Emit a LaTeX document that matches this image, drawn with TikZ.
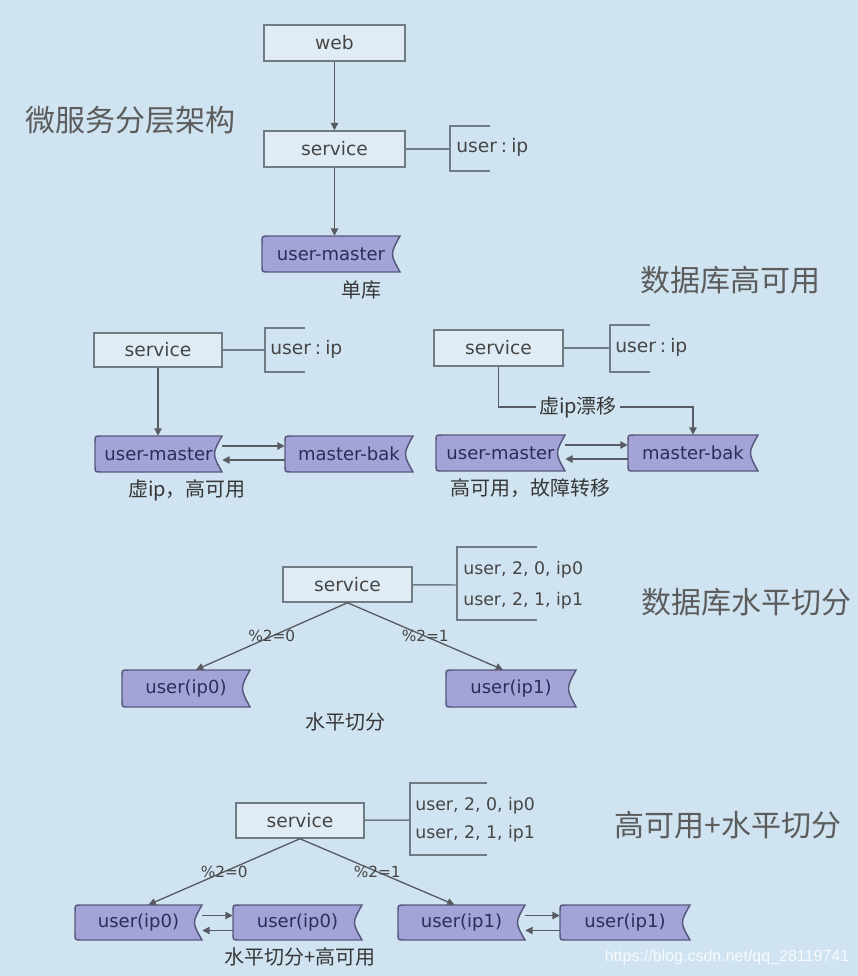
\documentclass[tikz,border=0pt]{standalone}
\usepackage{fontspec}
\setmainfont{DejaVu Sans}
\newfontfamily\cjk{Noto Sans CJK SC}
\newfontfamily\wmfont{Liberation Sans}
\usetikzlibrary{calc,arrows.meta}
\definecolor{bgc}{RGB}{207,227,241}
\definecolor{boxfill}{RGB}{224,236,245}
\definecolor{boxline}{RGB}{112,124,132}
\definecolor{dbfill}{RGB}{163,163,216}
\definecolor{dbline}{RGB}{88,88,125}
\definecolor{dbtext}{RGB}{45,45,88}
\definecolor{txt}{RGB}{70,70,70}
\definecolor{ttl}{RGB}{92,92,92}
\definecolor{nt}{RGB}{55,55,55}
\definecolor{wirec}{RGB}{88,92,98}
% name, x1, y1, x2, y2, text
\newcommand\dbnode[6]{%
  \filldraw[fill=dbfill,draw=dbline,line width=1.1pt]
    ({#2+6},#3) -- (#4,#3) .. controls ({#4-10},{(#3+#5)/2}) .. (#4,#5)
    -- ({#2+6},#5) .. controls (#2,#5) .. (#2,{#5-6})
    -- (#2,{#3+6}) .. controls (#2,#3) .. cycle;
  \node[dbtxt,minimum width={(#4-#2)*0.75pt},minimum height={(#5-#3)*0.75pt}]
    (#1) at ({(#2+#4)/2},{(#3+#5)/2}) {#6\hspace{4pt}};}
\begin{document}
\begin{tikzpicture}[x=0.75pt,y=-0.75pt,
  svcbox/.style={draw=boxline,fill=boxfill,line width=1.1pt,inner sep=0pt,
    minimum width=96pt,minimum height=26.25pt,font=\fontsize{14}{16}\selectfont,text=txt},
  dbtxt/.style={inner sep=0pt,font=\fontsize{13.5}{16}\selectfont,text=dbtext},
  anno/.style={inner sep=0pt,anchor=west,font=\fontsize{14}{16}\selectfont,text=txt},
  annotwo/.style={inner sep=0pt,anchor=west,align=left,text=txt},
  bline/.style={draw=boxline,line width=1.1pt},
  wire/.style={draw=wirec,line width=1pt},
  arr/.style={wire,-{Triangle[length=5.5pt,width=5.5pt]}},
  ttlnode/.style={font=\cjk\fontsize{22.5}{26}\selectfont,text=ttl,inner sep=0pt},
  note/.style={font=\cjk\fontsize{15}{18}\selectfont,text=nt,inner sep=0pt},
  pct/.style={font=\fontsize{11.5}{13}\selectfont,text=txt,inner sep=0pt},
]
\fill[bgc] (0,0) rectangle (858,976);
\useasboundingbox (0,0) rectangle (858,976);

% ---------- section 1 ----------
\node[ttlnode] (t1) at (131,120) {微服务分层架构};
\node[ttlnode] (t2) at (730,280) {数据库高可用};
\node[svcbox,minimum width=105.75pt,minimum height=27pt] (web) at (334.5,43) {web};
\node[svcbox,minimum width=105.75pt,minimum height=27pt] (s1) at (334.5,149) {service};
\draw[arr] (web) -- (s1);
\dbnode{um1}{262}{236}{400}{272}{user-master}
\draw[arr] (s1.south) -- (s1.south |- um1.north);
\node[note] (n1) at (361,290) {单库};
\coordinate (b1) at (450,149);
\draw[bline] (490,126) -- (450,126) -- (450,171) -- (490,171);
\draw[bline] (s1) -- (b1);
\node[anno] (a1) at (456,147) {user\hspace{3pt}:\hspace{3pt}ip};

% ---------- section 2 left ----------
\node[svcbox,minimum height=25.5pt] (s2a) at (158,350) {service};
\coordinate (b2a) at (265,350);
\draw[bline] (305,328) -- (265,328) -- (265,372) -- (305,372);
\draw[bline] (s2a) -- (b2a);
\node[anno] (a2a) at (270,349) {user\hspace{3pt}:\hspace{3pt}ip};
\dbnode{um2a}{95}{436}{222}{472}{user-master}
\dbnode{mb2a}{285}{436}{413}{472}{master-bak}
\draw[arr] (s2a.south) -- (s2a.south |- um2a.north);
\draw[arr] ($(um2a.east)+(0,-8)$) -- ($(mb2a.west)+(0,-8)$);
\draw[arr] ($(mb2a.west)+(0,6)$) -- ($(um2a.east)+(0,6)$);
\node[note] (n2a) at (187,490) {虚ip，高可用};

% ---------- section 2 right ----------
\node[svcbox,minimum width=96.75pt,minimum height=27pt] (s2b) at (498.5,348) {service};
\coordinate (b2b) at (610,348);
\draw[bline] (650,325) -- (610,325) -- (610,372) -- (650,372);
\draw[bline] (s2b) -- (b2b);
\node[anno] (a2b) at (615,347) {user\hspace{3pt}:\hspace{3pt}ip};
\dbnode{um2b}{436}{435}{565}{471}{user-master}
\dbnode{mb2b}{628}{435}{758}{471}{master-bak}
\node[note,inner sep=2pt] (vip) at (578,407) {虚ip漂移};
\draw[wire] (s2b.south) |- (vip.west);
\draw[arr] (vip.east) -| (mb2b.north);
\draw[arr] ($(um2b.east)+(0,-8)$) -- ($(mb2b.west)+(0,-8)$);
\draw[arr] ($(mb2b.west)+(0,6)$) -- ($(um2b.east)+(0,6)$);
\node[note] (n2b) at (530,488) {高可用，故障转移};

% ---------- section 3 ----------
\node[ttlnode] (t3) at (746,602) {数据库水平切分};
\node[svcbox,minimum width=96.75pt,minimum height=26.25pt] (s3) at (347.5,584.5) {service};
\coordinate (b3) at (457,585);
\draw[bline] (537,547) -- (457,547) -- (457,620) -- (537,620);
\draw[bline] (s3) -- (b3);
\node[annotwo,font=\fontsize{13}{23.25}\selectfont] (a3) at (463,585.5) {user, 2, 0, ip0\\user, 2, 1, ip1};
\dbnode{u30}{122}{670}{250}{707}{user(ip0)}
\dbnode{u31}{446}{670}{576}{707}{user(ip1)}
\draw[arr] (s3.south) -- node[pct] {\%2=0} ($(u30.north)+(10,0)$);
\draw[arr] (s3.south) -- node[pct] {\%2=1} ($(u31.north)+(-8,0)$);
\node[note] (n3) at (345,722) {水平切分};

% ---------- section 4 ----------
\node[ttlnode] (t4) at (728,825) {高可用+水平切分};
\node[svcbox,minimum width=96pt,minimum height=26.25pt] (s4) at (300,820.5) {service};
\coordinate (b4) at (410,820);
\draw[bline] (487,783) -- (410,783) -- (410,855) -- (487,855);
\draw[bline] (s4) -- (b4);
\node[annotwo,font=\fontsize{13}{21}\selectfont] (a4) at (415,820) {user, 2, 0, ip0\\user, 2, 1, ip1};
\dbnode{u40a}{75}{905}{202}{940}{user(ip0)}
\dbnode{u40b}{233}{905}{362}{940}{user(ip0)}
\dbnode{u41a}{398}{905}{525}{940}{user(ip1)}
\dbnode{u41b}{560}{905}{690}{940}{user(ip1)}
\draw[arr] (s4.south) -- node[pct] {\%2=0} ($(u40a.north)+(10,0)$);
\draw[arr] (s4.south) -- node[pct] {\%2=1} ($(u41a.north)+(-7,0)$);
\draw[arr] ($(u40a.east)+(0,-7)$) -- ($(u40b.west)+(0,-7)$);
\draw[arr] ($(u40b.west)+(0,8)$) -- ($(u40a.east)+(0,8)$);
\draw[arr] ($(u41a.east)+(0,-7)$) -- ($(u41b.west)+(0,-7)$);
\draw[arr] ($(u41b.west)+(0,8)$) -- ($(u41a.east)+(0,8)$);
\node[note] (n4) at (300,957) {水平切分+高可用};
\node[font=\wmfont\fontsize{12}{14}\selectfont,text=white,opacity=0.85,inner sep=0pt] (wm) at (727,957) {https://blog.csdn.net/qq\_28119741};
\end{tikzpicture}
\end{document}
